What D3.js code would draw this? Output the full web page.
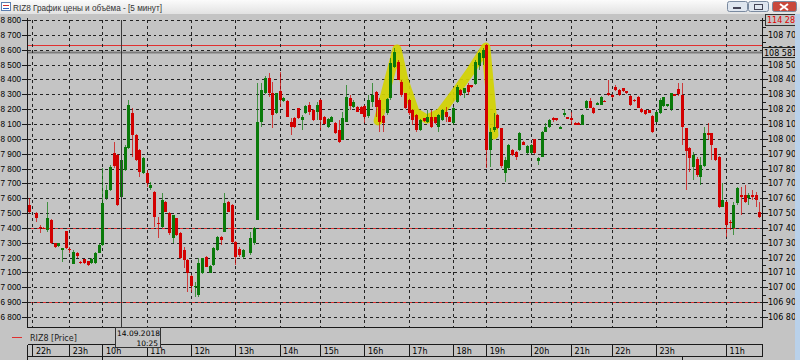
<!DOCTYPE html>
<html><head><meta charset="utf-8">
<script src="https://cdn.jsdelivr.net/npm/d3@7"></script>
<style>body{margin:0;overflow:hidden;background:#c4c4c4}svg{display:block}</style>
</head><body><svg id="c" width="800" height="360"></svg>
<script>
// ---------- data ----------
const windowTitle = "RIZ8 График цены и объёма - [5 минут]";
const seriesName = "RIZ8 [Price]";
// 5-minute bars, array position = bar number (null = no bar drawn)
const open = [107555,null,107500,107408,107400,107386,107453,107298,107273,107251,
 107379,107260,107162,107229,107172,107189,107177,107165,107165,107233,
 107285,107601,107655,107902,107891,107610,107790,107936,108172,108026,
 107925,107768,107768,107667,107644,107435,107408,107576,107498,107330,
 107465,107364,107251,107184,107076,107000,106948,107094,107206,107099,
 107150,107251,107341,107374,107576,107554,107307,107260,107204,null,
 107231,107298,107453,108115,108306,108407,108306,108172,108322,108250,
 108255,108115,108142,108207,108127,108176,108228,108194,108183,108261,
 108149,108081,108115,108104,108059,107992,108115,108273,108216,108216,
 108216,108221,108154,108250,108317,108261,108154,108172,108273,108486,
 108519,108385,108306,108261,108194,108160,108059,108138,108115,108149,
 108145,108081,108127,108183,108149,108104,108250,108329,108306,108362,
 108362,108374,108497,108542,108632,107925,108059,108160,108071,107768,
 107801,107925,107913,107925,107980,107902,107907,107997,107846,107880,
 108048,108077,108138,108138,108070,108156,108149,108142,108109,108109,
 108093,108205,108255,108210,108228,108228,108256,108306,108295,108351,
 108329,108340,108322,108288,108261,108284,108199,108194,108194,108154,
 108115,108176,108221,108216,108199,108302,108333,108295,108071,107936,
 107812,107862,107745,107812,108037,108037,107936,107879,107543,107576,
 107440,107397,107566,107622,107622,107599,107622,107622,107509];
const high = [107600,null,107510,107420,107405,107576,107460,107300,107300,107265,
 107380,107273,107251,107235,107175,107190,107180,107195,107235,107290,
 107803,107689,107823,107980,107900,107865,107955,108261,108205,108030,
 107930,107875,107790,107711,107650,107475,107633,107580,107505,107490,
 107470,107370,107273,107190,107080,107038,107195,107200,107210,107150,
 107270,107345,107345,107633,107580,107560,107310,107273,107260,null,
 107374,107408,108376,108374,108420,108441,108385,108310,108452,108280,
 108260,108138,108145,108210,108160,108225,108250,108200,108250,108265,
 108155,108140,108155,108110,108127,108183,108362,108295,108261,108220,
 108220,108225,108295,108374,108320,108273,108160,108273,108542,108609,
 108531,108396,108310,108265,108200,108165,108135,108140,108194,108194,
 108150,108165,108200,108216,108155,108216,108362,108335,108345,108374,
 108365,108531,108587,108609,108640,108071,108172,108165,108075,107879,
 107965,107930,107915,108045,107985,107955,107965,108000,107879,108055,
 108104,108130,108149,108140,108085,108199,108150,108183,108110,108110,
 108165,108260,108273,108215,108250,108285,108258,108396,108300,108362,
 108335,108345,108325,108292,108265,108288,108205,108197,108197,108158,
 108187,108273,108284,108236,108310,108305,108374,108374,108075,107947,
 107913,107879,107879,108081,108104,108040,107940,107885,107700,107580,
 107453,107576,107677,107677,107689,107633,107655,107644,107576];
const low = [107500,null,107440,107364,107390,107374,107290,107263,107270,107172,
 107256,107229,107160,107200,107160,107155,107145,107160,107160,107230,
 107280,107588,107650,107801,107550,107605,107785,107930,107879,107850,
 107745,107765,107677,107655,107408,107330,107397,107505,107352,107296,
 107345,107190,107128,106970,106970,106937,106937,107090,107135,107095,
 107145,107245,107285,107370,107505,107300,107150,107206,107190,null,
 107218,107285,107450,108081,108300,108284,108071,108165,108216,108245,
 108145,108026,108075,108135,108059,108170,108160,108120,108127,108059,
 108100,108075,108110,108030,107970,107990,108110,108194,108205,108180,
 108165,108104,108138,108216,108149,108048,108048,108160,108261,108475,
 108396,108284,108200,108160,108093,108048,108055,108110,108104,108071,
 108100,108048,108120,108115,108110,108093,108239,108290,108273,108295,
 108345,108362,108463,108497,107801,107812,108048,108065,107801,107711,
 107795,107885,107857,107920,107955,107895,107900,107897,107824,107875,
 108045,108070,108115,108120,108065,108149,108135,108093,108090,108090,
 108090,108200,108205,108170,108225,108225,108248,108290,108275,108325,
 108290,108312,108300,108222,108250,108205,108172,108160,108172,108042,
 108110,108170,108215,108212,108190,108285,108288,107958,107655,107778,
 107723,107745,107689,107810,107992,107857,107850,107532,107540,107341,
 107386,107352,107554,107487,107566,107554,107588,107543,107465];
const close = [107510,null,107467,107399,107395,107469,107296,107273,107296,107263,
 107263,107250,107240,107206,107165,107162,107150,107189,107229,107285,
 107566,107655,107812,107812,107554,107857,107947,108228,108026,107857,
 107778,107869,107700,107689,107475,107430,107588,107509,107364,107487,
 107352,107195,107184,107094,107009,107010,107162,107195,107139,107144,
 107263,107339,107323,107566,107509,107307,107206,107220,107251,null,
 107332,107399,108115,108329,108407,108306,108160,108306,108261,108273,
 108149,108081,108081,108140,108149,108221,108183,108127,108228,108127,
 108104,108133,108149,108037,107976,108140,108284,108216,108250,108183,
 108172,108149,108261,108295,108216,108115,108104,108266,108508,108587,
 108401,108295,108205,108172,108127,108059,108127,108115,108149,108081,
 108104,108160,108194,108149,108115,108205,108351,108295,108340,108317,
 108350,108519,108576,108598,107925,108048,108081,108071,107812,107857,
 107958,107891,107880,108041,107958,107952,107958,107902,107869,108048,
 108081,108127,108122,108127,108081,108172,108138,108127,108093,108093,
 108160,108255,108210,108176,108243,108280,108250,108295,108280,108329,
 108295,108317,108306,108228,108255,108212,108176,108167,108176,108048,
 108183,108261,108280,108232,108306,108288,108302,108081,107913,107869,
 107891,107756,107823,108037,108026,107958,107857,107543,107588,107420,
 107430,107554,107667,107610,107576,107622,107610,107588,107475];
// hour boundaries (bar numbers) and labels
const hourLabels = ["22h","23h","10h","11h","12h","13h","14h","15h","16h","17h","18h","19h","20h","21h","22h","23h","11h"];
const hourBars   = [1,11,20,32,44,56,68,79,91,103,115,124,136,147,158,170,189];
const priceMin = 106800, priceMax = 108800, priceStep = 100;
const redLevels = [108635, 107400, 106900];
const lastPrice = 108581;
const topBoxLabel = "114 280";
const cursorBar = 25;
const cursorDate = "14.09.2018", cursorTime = "10:25";
// hand-drawn highlight, in (bar, price)
const markBars   = [94.7, 99.8, 101.7, 104.7, 107.9, 111.5, 115.5, 119.6, 123.9, 126.1];
const markPrices = [108120,108605,108396,108180,108133,108174,108308,108450,108618,108026];

// ---------- drawing ----------
const W = 800, H = 360;
const BG = "#c4c4c4", RED = "#d20000", GREEN = "#0a7a0a", INK = "#1a1a1a";
const FONT = "DejaVu Sans";
const fmt = v => { const s = String(v); return s.slice(0, s.length-3) + " " + s.slice(-3); };

const svg = d3.select("#c");
const x = d3.scaleLinear().domain([0, open.length - 1]).range([28.7, 759.3]);
const y = d3.scaleLinear().domain([priceMin, priceMax]).range([317, 20]);
const L = 27.5, R = 762.5, T = 20, B = 327.5;
const px = v => Math.round(v) + 0.5;

svg.append("rect").attr("width", W).attr("height", H).attr("fill", BG);

// title bar
const defs = svg.append("defs");
const tg = defs.append("linearGradient").attr("id","tb").attr("x1",0).attr("y1",0).attr("x2",0).attr("y2",1);
tg.append("stop").attr("offset",0).attr("stop-color","#fbfbfb");
tg.append("stop").attr("offset",1).attr("stop-color","#e2e2e2");
svg.append("rect").attr("width", W).attr("height", 14).attr("fill","url(#tb)");
svg.append("rect").attr("x",1.5).attr("y",2.5).attr("width",9).attr("height",8).attr("fill","#fff").attr("stroke","#5b7fb0");
svg.append("line").attr("x1",3).attr("x2",9).attr("y1",5.5).attr("y2",5.5).attr("stroke","#d03030");
svg.append("line").attr("x1",3).attr("x2",9).attr("y1",8.5).attr("y2",8.5).attr("stroke","#3060c0");
svg.append("text").attr("x",13).attr("y",10.5).attr("font-family","Liberation Sans").attr("font-size",8.2)
  .attr("fill","#333").text(windowTitle);
// window buttons
const btn = (x0, w, fill) => svg.append("rect").attr("x",x0+0.5).attr("y",1.5).attr("width",w).attr("height",10)
  .attr("rx",2).attr("fill",fill).attr("stroke","#7a8aa0");
btn(727, 20, "#dfe6ef"); btn(748, 20, "#dfe6ef"); btn(772, 24, "#c9483a");
svg.append("rect").attr("x",733).attr("y",7).attr("width",8).attr("height",2).attr("fill","#445");
svg.append("rect").attr("x",754.5).attr("y",4.5).attr("width",8).attr("height",5).attr("fill","none").attr("stroke","#445");
svg.append("path").attr("d","M780,4 L788,10 M788,4 L780,10").attr("stroke","#fff").attr("stroke-width",2);

// level lines (under grid)
redLevels.forEach(v => svg.append("line").attr("x1",L).attr("x2",R).attr("y1",px(y(v))).attr("y2",px(y(v)))
  .attr("stroke","#e03030"));
svg.append("line").attr("x1",L).attr("x2",R).attr("y1",y(lastPrice)).attr("y2",y(lastPrice))
  .attr("stroke","#7c7c7c").attr("stroke-width",2);

// grid
const priceTicks = d3.range(priceMin, priceMax + 1, priceStep);
const grid = svg.append("g").attr("stroke","#222").attr("stroke-dasharray","3,3").attr("shape-rendering","crispEdges");
priceTicks.forEach(v => grid.append("line").attr("x1",L).attr("x2",R).attr("y1",px(y(v))).attr("y2",px(y(v))));
hourBars.forEach(b => grid.append("line").attr("x1",px(x(b))).attr("x2",px(x(b))).attr("y1",T).attr("y2",B));

// highlight
const hl = d3.line().x((d,i)=>x(markBars[i])).y((d,i)=>y(markPrices[i]));
svg.append("path").attr("d", hl(markBars)).attr("fill","none").attr("stroke","#d2d200")
  .attr("stroke-width",9).attr("stroke-linejoin","round").attr("stroke-linecap","round").attr("opacity",0.92);

// candles
const cg = svg.append("g").attr("shape-rendering","crispEdges");
open.forEach((o, i) => {
  if (o == null) return;
  const c = close[i], up = c >= o, col = up ? GREEN : RED;
  const cx = Math.round(x(i));
  cg.append("line").attr("x1",cx+0.5).attr("x2",cx+0.5).attr("y1",y(high[i])).attr("y2",y(low[i]))
    .attr("stroke",col).attr("stroke-opacity",0.7);
  const t = y(Math.max(o,c)), b = y(Math.min(o,c));
  cg.append("rect").attr("x",cx-1).attr("width",3).attr("y",Math.round(t)).attr("height",Math.max(1,Math.round(b-t)))
    .attr("fill",col);
});

// cursor line
svg.append("line").attr("x1",px(x(cursorBar))).attr("x2",px(x(cursorBar))).attr("y1",T).attr("y2",B)
  .attr("stroke","#3a3a3a");

// axes frame
const frame = svg.append("g").attr("stroke",INK).attr("shape-rendering","crispEdges");
frame.append("line").attr("x1",L).attr("x2",L).attr("y1",18).attr("y2",B);
frame.append("line").attr("x1",R).attr("x2",R).attr("y1",18).attr("y2",B);
frame.append("line").attr("x1",L).attr("x2",R).attr("y1",B).attr("y2",B);
priceTicks.forEach(v => {
  frame.append("line").attr("x1",22).attr("x2",L).attr("y1",px(y(v))).attr("y2",px(y(v)));
  frame.append("line").attr("x1",R).attr("x2",768).attr("y1",px(y(v))).attr("y2",px(y(v)));
});
d3.range(priceMin + priceStep/2, priceMax, priceStep).forEach(v =>
  frame.append("line").attr("x1",R).attr("x2",765.5).attr("y1",px(y(v))).attr("y2",px(y(v))));

const lab = svg.append("g").attr("font-family",FONT).attr("font-size",8).attr("fill","#000");
priceTicks.forEach(v => {
  // left scale shows only the visible tail of the label, as in the narrow left margin
  lab.append("text").attr("x",21).attr("y",y(v)+3).attr("text-anchor","end")
    .attr("font-family","Liberation Sans").attr("font-size",8.2).text(fmt(v).slice(-5));
  if (v < priceMax) lab.append("text").attr("x",768).attr("y",y(v)+3).text(fmt(v));
});

// top red box & last price box
svg.append("rect").attr("x",765.5).attr("y",14.5).attr("width",31).attr("height",11).attr("fill",BG).attr("stroke","#333");
svg.append("text").attr("x",767).attr("y",23).attr("font-family",FONT).attr("font-size",8).attr("fill","#e00000").text(topBoxLabel);
svg.append("rect").attr("x",762.5).attr("y",y(lastPrice)-5).attr("width",33).attr("height",10).attr("fill",BG).attr("stroke","#222");
svg.append("text").attr("x",764).attr("y",y(lastPrice)+3).attr("font-family",FONT).attr("font-size",8).attr("fill","#000").text(fmt(lastPrice));

// legend
svg.append("line").attr("x1",12).attr("x2",22).attr("y1",337.5).attr("y2",337.5).attr("stroke","#e03030");
svg.append("text").attr("x",30).attr("y",340.5).attr("font-family",FONT).attr("font-size",8).attr("fill","#222").text(seriesName);

// time axis row
const ta = svg.append("g").attr("stroke",INK).attr("shape-rendering","crispEdges");
ta.append("line").attr("x1",L).attr("x2",R).attr("y1",344.5).attr("y2",344.5);
ta.append("line").attr("x1",L).attr("x2",R).attr("y1",356.5).attr("y2",356.5);
ta.append("line").attr("x1",L).attr("x2",L).attr("y1",344.5).attr("y2",360);
[L].concat(hourBars.map(b => px(x(b)))).concat([R]).forEach(xx =>
  ta.append("line").attr("x1",xx).attr("x2",xx).attr("y1",344.5).attr("y2",356.5));
[20, 177].forEach(b => ta.append("line").attr("x1",px(x(b))).attr("x2",px(x(b))).attr("y1",356.5).attr("y2",360));
hourBars.forEach((b,i) => lab.append("text").attr("x",x(b)+3.5).attr("y",354).text(hourLabels[i]));

// cursor date box
svg.append("rect").attr("x",115.5).attr("y",327.5).attr("width",45).attr("height",20).attr("fill",BG).attr("stroke","#333");
svg.append("text").attr("x",117).attr("y",336).attr("font-family",FONT).attr("font-size",7.5).attr("fill","#000").text(cursorDate);
svg.append("text").attr("x",158).attr("y",346).attr("text-anchor","end").attr("font-family",FONT).attr("font-size",7.5).attr("fill","#000").text(cursorTime);

// right window frame
svg.append("rect").attr("x",795).attr("y",14).attr("width",5).attr("height",346).attr("fill","#b9d1ea");
</script></body></html>
